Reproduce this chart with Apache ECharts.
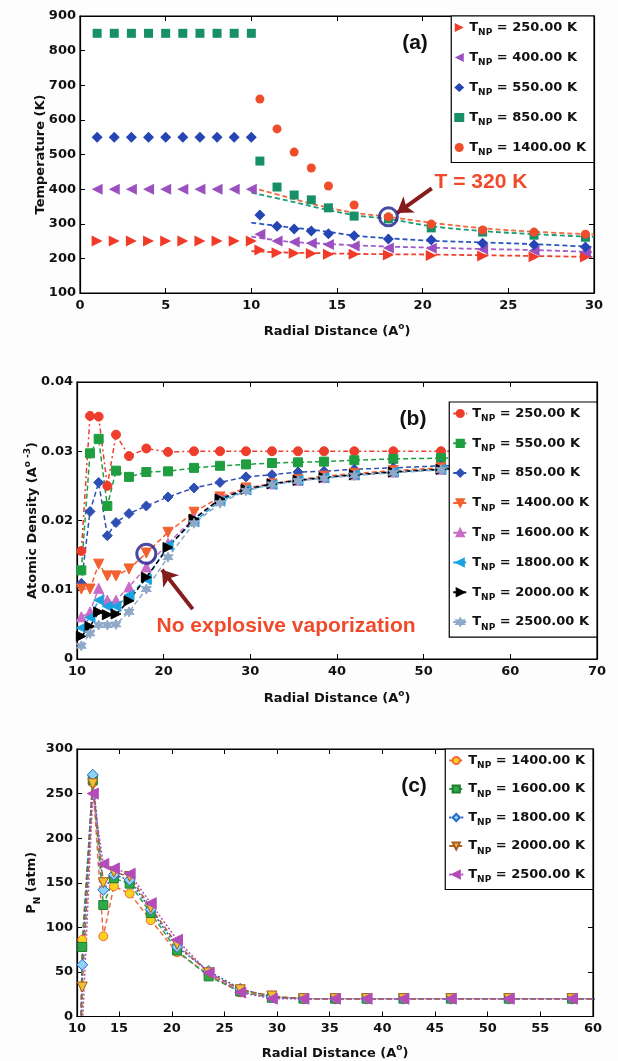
<!DOCTYPE html>
<html>
<head>
<meta charset="utf-8">
<script src="https://cdn.jsdelivr.net/npm/echarts@6/dist/echarts.min.js"></script>
<style>
html,body{margin:0;padding:0;background:#fdfdfe;}
#main{width:618px;height:1061px;}
</style>
</head>
<body>
<div id="main"></div>
<script>
// (a) temperature vs radial distance
var radA=[1,2,3,4,5,6,7,8,9,10,10.5,11.5,12.5,13.5,14.5,16,18,20.5,23.5,26.5,29.5];
var tempA250=[250,250,250,250,250,250,250,250,250,250,224,216,215,214,212,212,210,208,207,205,204];
var tempA400=[400,400,400,400,400,400,400,400,400,400,270,250,247,244,240,236,230,229,226,222,218];
var tempA550=[550,550,550,550,550,550,550,550,550,550,325,293,285,279,271,265,256,253,244,239,233];
var tempA850=[850,850,850,850,850,850,850,850,850,850,481,406,383,369,346,322,314,288,276,267,261];
var tempA1400=[1400,1400,1400,1400,1400,1400,1400,1400,1400,1400,660,574,507,461,409,354,320,299,282,276,270];
// dashed fits in (a)
var fitX=[10,12,14,16,18,20.5,23.5,26.5,30];
var fit250=[221,217,215,213,212,211,209,207,204];
var fit400=[263,249,243,238,234,231,227,224,218];
var fit550=[303,291,280,266,258,251,246,241,233];
var fit850=[390,368,345,325,314,293,279,270,262];
var fit1400=[405,378,352,332,320,303,287,277,269];

// (b) atomic density
var radB=[10.5,11.5,12.5,13.5,14.5,16,18,20.5,23.5,26.5,29.5,32.5,35.5,38.5,42,46.5,52,58];
var rhoB250=[0.0156,0.0351,0.0350,0.0250,0.0324,0.0293,0.0304,0.0299,0.0300,0.0300,0.0300,0.0300,0.0300,0.0300,0.0300,0.0300,0.0300,0.0300];
var rhoB550=[0.0128,0.0297,0.0318,0.0221,0.0272,0.0263,0.0270,0.0271,0.0276,0.0279,0.0281,0.0283,0.0284,0.0285,0.0287,0.0289,0.0290,0.0291];
var rhoB850=[0.0109,0.0213,0.0255,0.0178,0.0197,0.0210,0.0221,0.0234,0.0247,0.0255,0.0263,0.0266,0.0270,0.0271,0.0274,0.0276,0.0279,0.0280];
var rhoB1400=[0.0101,0.0101,0.0137,0.0120,0.0120,0.0130,0.0153,0.0183,0.0212,0.0234,0.0247,0.0253,0.0259,0.0264,0.0268,0.0272,0.0276,0.0278];
var rhoB1600=[0.0061,0.0068,0.0102,0.0085,0.0085,0.0104,0.0133,0.0167,0.0203,0.0232,0.0246,0.0253,0.0258,0.0262,0.0266,0.0270,0.0274,0.0276];
var rhoB1800=[0.0045,0.0060,0.0085,0.0076,0.0076,0.0092,0.0115,0.0164,0.0198,0.0228,0.0244,0.0252,0.0258,0.0262,0.0266,0.0270,0.0274,0.0276];
var rhoB2000=[0.0033,0.0047,0.0068,0.0064,0.0065,0.0084,0.0118,0.0161,0.0202,0.0231,0.0245,0.0253,0.0258,0.0262,0.0266,0.0270,0.0274,0.0276];
var rhoB2500=[0.0019,0.0037,0.0049,0.0049,0.0050,0.0068,0.0101,0.0147,0.0196,0.0225,0.0243,0.0252,0.0257,0.0261,0.0265,0.0269,0.0273,0.0275];

// (c) pressure
var radC=[10.5,11.5,12.5,13.5,14.5,16,18,20.5,23.5,26.5,29.5,32.5,35.5,38.5,42,46.5,52,58,64];
var pC1400=[-600,86,262,90,146,138,108,72,47,27,22,20,20,20,20,20,20,20,20];
var pC1600=[-600,78,265,125,155,149,116,74,45,28,21,20,20,20,20,20,20,20,20];
var pC1800=[-600,58,271,142,159,153,120,78,51,31,22,20,20,20,20,20,20,20,20];
var pC2000=[-600,33,261,150,162,157,122,81,49,30,23,20,20,20,20,20,20,20,20];
var pC2500=[-600,-15,250,171,166,160,127,86,49,27,20,20,20,20,20,20,20,20,20];
var ticksC=[11,15,20,25,30,35,40,45,50,55,60];

var FONT='DejaVu Sans';
var RED='#f04a2a';
var star='path://M0,-10L2.6,-4.5L8.7,-5L5.2,0L8.7,5L2.6,4.5L0,10L-2.6,4.5L-8.7,5L-5.2,0L-8.7,-5L-2.6,-4.5Z';
var rich={
  t:{fontFamily:FONT,fontWeight:'bold',fontSize:13,color:'#111',lineHeight:20,verticalAlign:'middle'},
  s:{fontFamily:FONT,fontWeight:'bold',fontSize:9,color:'#111',lineHeight:8,verticalAlign:'bottom'},
  p:{fontFamily:FONT,fontWeight:'bold',fontSize:9,color:'#111',lineHeight:8,verticalAlign:'top'}
};

function pts(xs,ys){ return xs.map(function(x,i){ return [x,ys[i]]; }); }

function xAx(grid,min,max,interval,top,name,gap){
  var a={gridIndex:grid,type:'value',min:min,max:max,position:top?'top':'bottom',
    axisLine:{show:true,onZero:false,lineStyle:{color:'#000',width:1.2}},
    axisTick:{show:true,inside:true,length:5,lineStyle:{color:'#000'}},
    axisLabel:{show:!top,margin:6,color:'#111',fontFamily:FONT,fontWeight:'bold',fontSize:13},
    splitLine:{show:false}};
  if(interval) a.interval=interval;
  if(name){
    a.name=name; a.nameLocation='middle'; a.nameGap=gap;
    a.nameTextStyle={rich:rich,fontFamily:FONT,fontWeight:'bold',fontSize:13,color:'#111'};
  }
  return a;
}
function yAx(grid,min,max,interval,right,name,gap){
  var a={gridIndex:grid,type:'value',min:min,max:max,interval:interval,position:right?'right':'left',
    axisLine:{show:true,onZero:false,lineStyle:{color:'#000',width:1.2}},
    axisTick:{show:true,inside:true,length:5,lineStyle:{color:'#000'}},
    axisLabel:{show:!right,margin:4,color:'#111',fontFamily:FONT,fontWeight:'bold',fontSize:13},
    splitLine:{show:false}};
  if(name){
    a.name=name; a.nameLocation='middle'; a.nameGap=gap; a.nameMoveOverlap=false;
    a.nameTextStyle={rich:rich,fontFamily:FONT,fontWeight:'bold',fontSize:13,color:'#111'};
  }
  return a;
}

var xAxes=[
  xAx(0,0,30,5,false,'{t|Radial Distance (A}{p|o}{t|)}',29),
  xAx(0,0,30,5,true),
  xAx(1,10,70,10,false,'{t|Radial Distance (A}{p|o}{t|)}',30),
  xAx(1,10,70,10,true),
  xAx(2,11,60,null,false,'{t|Radial Distance (A}{p|o}{t|)}',27),
  xAx(2,11,60,null,true)
];
// (c) ticks follow the reference labelling
xAxes[4].axisLabel.customValues=ticksC;
xAxes[4].axisLabel.formatter=function(v){ return v===11?'10':String(v); };
xAxes[4].axisTick.customValues=ticksC;
xAxes[5].axisTick.customValues=ticksC.slice(1,10);

var yAxes=[
  yAx(0,100,900,100,false,'Temperature (K)',33),
  yAx(0,100,900,100,true),
  yAx(1,0,0.04,0.01,false,'{t|Atomic Density (A}{p|o -3}{t|)}',34),
  yAx(1,0,0.04,0.01,true),
  yAx(2,0,300,50,false,'{t|P}{s|N}{t| (atm)}',35),
  yAx(2,0,300,50,true)
];

// p = panel index, each panel owns two x axes and two y axes
function mk(name,p,xs,ys,sym,rot,color,size){
  return {name:name,type:'scatter',xAxisIndex:p*2,yAxisIndex:p*2,data:pts(xs,ys),
    symbol:sym,symbolRotate:rot,symbolSize:size||10,itemStyle:{color:color,opacity:1},z:3};
}
function fit(p,xs,ys,color){
  return {type:'line',xAxisIndex:p*2,yAxisIndex:p*2,data:pts(xs,ys),smooth:0.35,showSymbol:false,
    lineStyle:{color:color,width:1.8,type:[5,3]},z:2,silent:true};
}
function ln(name,p,xs,ys,sym,rot,fill,border,lineColor,dash,size){
  return {name:name,type:'line',xAxisIndex:p*2,yAxisIndex:p*2,data:pts(xs,ys),
    symbol:sym,symbolRotate:rot,symbolSize:size||9,showAllSymbol:true,
    itemStyle:{color:fill,borderColor:border,borderWidth:1},
    lineStyle:{color:lineColor,width:1.5,type:dash},z:3};
}
function ring(p,x,y,size,arrow){
  return {type:'scatter',xAxisIndex:p*2,yAxisIndex:p*2,data:[[x,y]],symbol:'circle',symbolSize:size,silent:true,z:6,
    itemStyle:{color:'rgba(0,0,0,0)',borderColor:'#1d1d8c',borderWidth:3},
    markLine:{silent:true,symbol:['none','arrow'],symbolSize:15,label:{show:false},
      lineStyle:{color:'#861c1c',width:4,type:'solid'},
      data:[[{coord:arrow[0]},{coord:arrow[1]}]]}};
}

var series=[
  fit(0,fitX,fit1400,'#f2673f'),
  fit(0,fitX,fit850,'#1c9c74'),
  fit(0,fitX,fit550,'#2a55c0'),
  fit(0,fitX,fit400,'#a05cc8'),
  fit(0,fitX,fit250,'#f0402e'),
  mk('a250',0,radA,tempA250,'triangle',-90,'#f23a28',11),
  mk('a400',0,radA,tempA400,'triangle',90,'#9b4fc0',11),
  mk('a550',0,radA,tempA550,'diamond',0,'#2545b5',11),
  mk('a850',0,radA,tempA850,'rect',0,'#17906a',9),
  mk('a1400',0,radA,tempA1400,'circle',0,'#f04e2a',9),
  ring(0,18,320,18,[[20.53,402],[18.5,331]]),

  ln('b250',1,radB,rhoB250,'circle',0,'#ee3d2c','#ee3d2c','#ee3d2c',[5,3,2,3]),
  ln('b550',1,radB,rhoB550,'rect',0,'#1f9e40','#1f9e40','#1f9e40',[5,3]),
  ln('b850',1,radB,rhoB850,'diamond',0,'#2f4fb5','#2f4fb5','#2f4fb5',[5,3],10),
  ln('b1400',1,radB,rhoB1400,'triangle',180,'#f2612e','#f2612e','#f2612e',[5,3],10),
  ln('b1600',1,radB,rhoB1600,'triangle',0,'#c86cc8','#c86cc8','#c86cc8',[5,3],10),
  ln('b1800',1,radB,rhoB1800,'triangle',90,'#1aa3e0','#1aa3e0','#1aa3e0',[5,3],10),
  ln('b2000',1,radB,rhoB2000,'triangle',-90,'#000','#000','#000',[5,3],10),
  ln('b2500',1,radB,rhoB2500,star,0,'#8fa9c9','#8fa9c9','#8fa9c9',[5,3],10),
  ring(1,18,0.0152,19,[[23.35,0.0072],[19.8,0.0129]]),

  ln('c1400',2,radC,pC1400,'circle',0,'#f7d21e','#f26a3a','#f06a40',[5,3],9),
  ln('c1600',2,radC,pC1600,'rect',0,'#2eaa48','#1e7e30','#2ca048',[5,3],9),
  ln('c1800',2,radC,pC1800,'diamond',0,'#8fd0f5','#2368c8','#2a5ec8',[2,2],11),
  ln('c2000',2,radC,pC2000,'triangle',180,'#f0c030','#a85a28','#b0602c',[5,3],10),
  ln('c2500',2,radC,pC2500,'triangle',90,'#b34bb8','#b34bb8','#b050c0',[2,2],11)
];

function legendFmt(name){
  var v=Number(name.slice(1)).toFixed(2);
  return '{t|T}{s|NP}{t| = '+v+' K}';
}
function leg(names,right,top,gap,w){
  return {data:names,orient:'vertical',right:right,top:top,itemGap:gap,itemWidth:w,itemHeight:9,
    padding:[5,8,5,3],backgroundColor:'#fff',borderColor:'#000',borderWidth:1.2,
    formatter:legendFmt,textStyle:{rich:rich},selectedMode:false};
}

var texts=[
  {type:'text',x:415,y:43,style:{text:'(a)',fill:'#111',font:'bold 21px "Liberation Sans"',align:'center',verticalAlign:'middle'}},
  {type:'text',x:413,y:419,style:{text:'(b)',fill:'#111',font:'bold 21px "Liberation Sans"',align:'center',verticalAlign:'middle'}},
  {type:'text',x:414,y:786,style:{text:'(c)',fill:'#111',font:'bold 21px "Liberation Sans"',align:'center',verticalAlign:'middle'}},
  {type:'text',x:481,y:182,style:{text:'T = 320 K',fill:RED,font:'bold 21px "Liberation Sans"',align:'center',verticalAlign:'middle'}},
  {type:'text',x:286,y:626,style:{text:'No explosive vaporization',fill:RED,font:'bold 21px "Liberation Sans"',align:'center',verticalAlign:'middle'}}
];

var chart=echarts.init(document.getElementById('main'));
chart.setOption({
  animation:false,
  backgroundColor:'#fdfdfe',
  grid:[
    {left:80,top:16,width:514,height:277,show:true,backgroundColor:'#fff',borderColor:'#000',borderWidth:1.2},
    {left:77,top:382,width:520,height:277,show:true,backgroundColor:'#fff',borderColor:'#000',borderWidth:1.2},
    {left:77,top:749,width:516,height:268,show:true,backgroundColor:'#fff',borderColor:'#000',borderWidth:1.2}
  ],
  xAxis:xAxes,
  yAxis:yAxes,
  legend:[
    leg(['a250','a400','a550','a850','a1400'].map(function(n,i){
      var icons=['path://M0,0L10,5L0,10Z','path://M10,0L0,5L10,10Z','diamond','rect','circle'];
      return {name:n,icon:icons[i]};
    }),24,16,13.5,10),
    leg(['b250','b550','b850','b1400','b1600','b1800','b2000','b2500'],21,402,13.3,14),
    leg(['c1400','c1600','c1800','c2000','c2500'],25,749,12,14)
  ],
  graphic:texts,
  series:series
});
</script>
</body>
</html>
